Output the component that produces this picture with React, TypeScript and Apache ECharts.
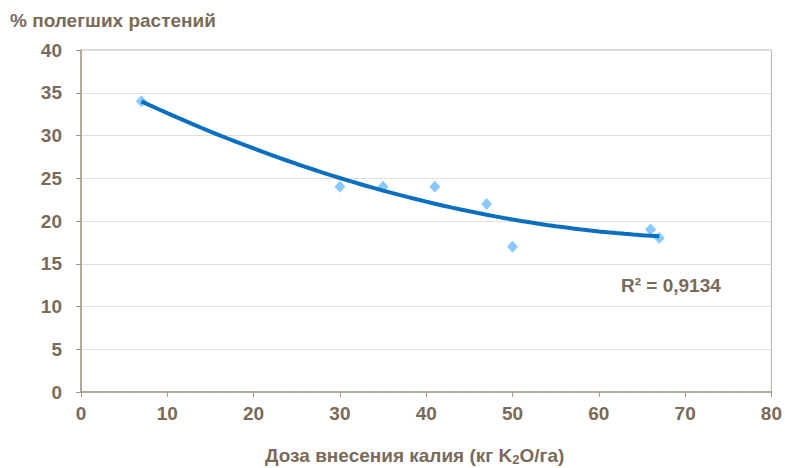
import React, { useEffect, useRef } from "react";
import * as echarts from "echarts";

const doseK2O = [7, 30, 35, 41, 47, 50, 66, 67];
const lodgedPct = [34, 24, 24, 24, 22, 17, 19, 18];
const xTicks = [0, 10, 20, 30, 40, 50, 60, 70, 80];
const yTicks = [0, 5, 10, 15, 20, 25, 30, 35, 40];
const r2Label = "R² = 0,9134";
const yTitle = "% полегших растений";

function quadFit(xs: number[], ys: number[]) {
  // least squares y = a + b x + c x^2
  const n = xs.length;
  let s = [0, 0, 0, 0, 0];
  let t = [0, 0, 0];
  for (let i = 0; i < n; i++) {
    const x = xs[i];
    for (let k = 0; k < 5; k++) s[k] += Math.pow(x, k);
    for (let k = 0; k < 3; k++) t[k] += ys[i] * Math.pow(x, k);
  }
  const M = [
    [s[0], s[1], s[2], t[0]],
    [s[1], s[2], s[3], t[1]],
    [s[2], s[3], s[4], t[2]],
  ];
  for (let i = 0; i < 3; i++) {
    for (let j = i + 1; j < 3; j++) {
      const f = M[j][i] / M[i][i];
      for (let k = i; k < 4; k++) M[j][k] -= f * M[i][k];
    }
  }
  const c = [0, 0, 0];
  for (let i = 2; i >= 0; i--) {
    let v = M[i][3];
    for (let k = i + 1; k < 3; k++) v -= M[i][k] * c[k];
    c[i] = v / M[i][i];
  }
  return c;
}

export default function App() {
  const ref = useRef<HTMLDivElement>(null);
  useEffect(() => {
    if (!ref.current) return;
    const chart = echarts.init(ref.current, null, { renderer: "svg" });
    const coef = quadFit(doseK2O, lodgedPct);
    const x0 = Math.min(...doseK2O);
    const x1 = Math.max(...doseK2O);
    const trend: number[][] = [];
    for (let i = 0; i <= 60; i++) {
      const x = x0 + ((x1 - x0) * i) / 60;
      trend.push([x, coef[0] + coef[1] * x + coef[2] * x * x]);
    }
    const txt = "#7a6a58";
    const font = "'Liberation Sans', Arial, sans-serif";
    const fs = 19;
    chart.setOption({
      animation: false,
      backgroundColor: "#ffffff",
      grid: {
        left: 81,
        right: 13,
        top: 50,
        bottom: 76,
        show: true,
        borderColor: "#b8aea4",
        borderWidth: 1,
      },
      xAxis: {
        type: "value",
        min: xTicks[0],
        max: xTicks[xTicks.length - 1],
        interval: 10,
        axisLine: { show: true, lineStyle: { color: "#a59888", width: 1.5 } },
        axisTick: { show: true, length: 5, lineStyle: { color: "#a59888" } },
        splitLine: { show: false },
        axisLabel: {
          color: txt,
          fontSize: fs,
          fontWeight: "bold",
          fontFamily: font,
          margin: 12,
        },
      },
      yAxis: {
        type: "value",
        min: yTicks[0],
        max: yTicks[yTicks.length - 1],
        interval: 5,
        axisLine: { show: true, lineStyle: { color: "#a59888", width: 1.5 } },
        axisTick: { show: true, length: 5, lineStyle: { color: "#a59888" } },
        splitLine: { show: true, lineStyle: { color: "#e2ddd8", width: 1 } },
        axisLabel: {
          color: txt,
          fontSize: fs,
          fontWeight: "bold",
          fontFamily: font,
          margin: 19,
        },
      },
      series: [
        {
          type: "line",
          data: trend,
          showSymbol: false,
          smooth: false,
          lineStyle: { color: "#0a6fbf", width: 4 },
          z: 3,
        },
        {
          type: "scatter",
          data: doseK2O.map((x, i) => [x, lodgedPct[i]]),
          symbol: "diamond",
          symbolSize: [11, 12],
          itemStyle: { color: "#6cbcff" },
          z: 2,
        },
      ],
      graphic: [
        {
          type: "text",
          left: 10,
          top: 11,
          style: {
            text: yTitle,
            fill: txt,
            font: `bold ${fs}px ${font}`,
          },
        },
        {
          type: "text",
          left: 621,
          top: 276,
          style: {
            text: r2Label,
            fill: txt,
            font: `bold ${fs}px ${font}`,
          },
        },
        {
          type: "text",
          left: 265,
          top: 446,
          style: {
            text: "{a|Доза внесения калия (кг K}{s|2}{a|O/га)}",
            rich: {
              a: { fill: txt, color: txt, fontSize: fs, fontWeight: "bold", fontFamily: font },
              s: { fill: txt, color: txt, fontSize: 13, fontWeight: "bold", fontFamily: font, padding: [7, 0, 0, 0] },
            },
          },
        },
      ],
    });
    return () => chart.dispose();
  }, []);
  return <div ref={ref} style={{ width: 785, height: 468, position: "absolute", left: 0, top: 0 }} />;
}
